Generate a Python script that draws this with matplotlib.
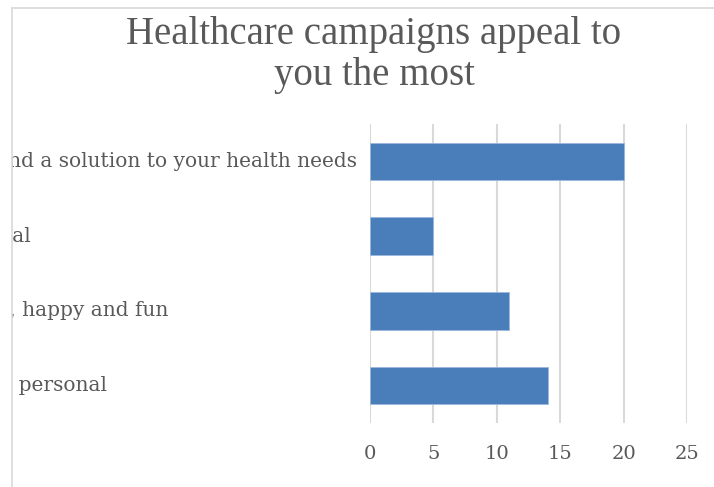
import matplotlib.pyplot as plt
from matplotlib.patches import Rectangle
from matplotlib.lines import Line2D
from matplotlib.transforms import blended_transform_factory

# data (top to bottom)
categories = [
    "Help you find a solution to your health needs",
    "Be emotional",
    "Are upbeat, happy and fun",
    "Seem more personal",
]
values = [20, 5, 11, 14]
x_ticks = [0, 5, 10, 15, 20, 25]

title = "Healthcare campaigns appeal to\nyou the most"

text_color = "#595959"
grid_color = "#d9d9d9"
bar_color = "#4a7ebb"
serif = ["DejaVu Serif"]
title_font = ["Liberation Serif", "DejaVu Serif"]

W, H = 714, 487
fig = plt.figure(figsize=(W / 100, H / 100), dpi=100)

# plot area in pixel coords of the reference
left, right, top, bottom = 370, 687, 124, 423
ax = fig.add_axes([left / W, 1 - bottom / H, (right - left) / W, (bottom - top) / H])

pos = list(range(len(categories)))
ax.barh(pos, values, height=0.5, color=bar_color, edgecolor="#9bb8dd",
        linewidth=0.6, zorder=3)
ax.set_ylim(len(categories) - 0.5, -0.5)
ax.set_xlim(0, 25)
ax.set_xticks(x_ticks)
ax.set_yticks(pos)
ax.set_yticklabels([])

for s in ax.spines.values():
    s.set_visible(False)
ax.grid(axis="x", color=grid_color, linewidth=1.5, zorder=0)
ax.tick_params(axis="both", length=0, colors=text_color)
ax.tick_params(axis="x", pad=16, labelsize=14)
for lbl in ax.get_xticklabels():
    lbl.set_family(serif)

# category labels are left aligned in the source, longest one ends 13 px
# before the plot area, so work out the common left edge from its width
trans = blended_transform_factory(fig.transFigure, ax.transData)
texts = [ax.text(0, p, c, transform=trans, ha="left", va="center",
                 fontsize=14.5, color=text_color, family=serif)
         for p, c in zip(pos, categories)]
fig.canvas.draw()
renderer = fig.canvas.get_renderer()
widest = max(t.get_window_extent(renderer).width for t in texts)
x0 = (357 - widest) / W
for t in texts:
    t.set_x(x0)

fig.text(374 / W, 1 - 55 / H, title, ha="center", va="center",
         fontsize=28, color=text_color, family=title_font, linespacing=1.12)

# screenshot frame: labels are clipped at the left border
fig.patches.append(Rectangle((0, 0), 12 / W, 1, transform=fig.transFigure,
                             facecolor="white", edgecolor="none", zorder=10))
fig.lines.append(Line2D([12 / W, 12 / W], [0, 1 - 8 / H], transform=fig.transFigure,
                        color=grid_color, linewidth=1.2, zorder=11))
fig.lines.append(Line2D([12 / W, 1], [1 - 8 / H, 1 - 8 / H], transform=fig.transFigure,
                        color=grid_color, linewidth=1.2, zorder=11))

fig.savefig("out.png", dpi=100)
